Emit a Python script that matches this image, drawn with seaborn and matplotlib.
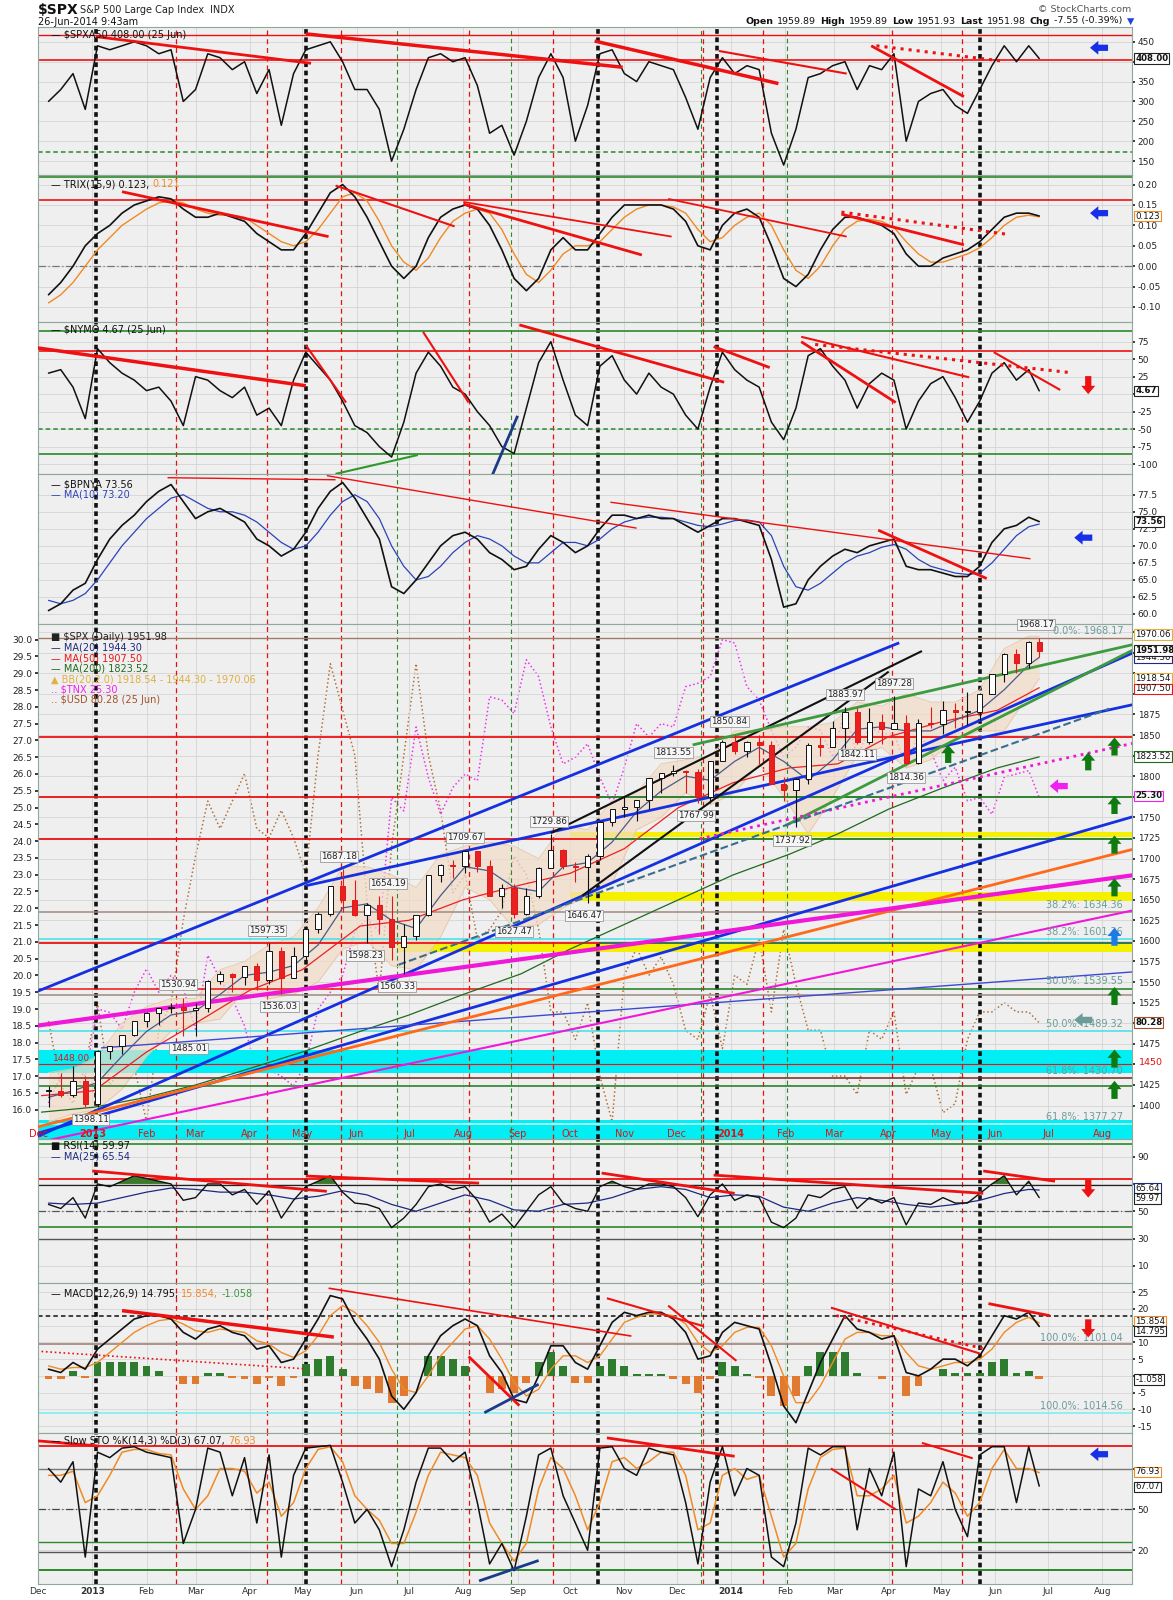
import numpy as np
import pandas as pd
import matplotlib
matplotlib.use("Agg")
import matplotlib.pyplot as plt
import matplotlib.transforms as mtransforms
import seaborn as sns

# ---------------- data (weekly samples) ----------------
weeks = list(pd.date_range("2012-12-07", "2014-06-20", freq="W-FRI")) + [pd.Timestamp("2014-06-26")]
biweeks = list(pd.date_range("2012-12-07", "2014-06-20", freq="2W-FRI")) + [pd.Timestamp("2014-06-26")]
months = pd.to_datetime(["2012-12-03", "2013-01-02", "2013-02-01", "2013-03-01", "2013-04-01",
                         "2013-05-01", "2013-06-03", "2013-07-01", "2013-08-01", "2013-09-03",
                         "2013-10-01", "2013-11-01", "2013-12-02", "2014-01-02", "2014-02-03",
                         "2014-03-03", "2014-04-01", "2014-05-01", "2014-06-02", "2014-06-26"])

spx_close = [1418, 1413, 1430, 1402, 1466, 1472, 1486, 1503, 1513, 1518,
             1520, 1516, 1518, 1551, 1560, 1556, 1569, 1553, 1588, 1555,
             1582, 1614, 1633, 1667, 1650, 1631, 1643, 1626, 1593, 1606,
             1632, 1680, 1692, 1691, 1709, 1691, 1655, 1664, 1633, 1655,
             1688, 1710, 1691, 1690, 1703, 1744, 1760, 1762, 1771, 1798,
             1804, 1806, 1805, 1775, 1818, 1842, 1831, 1842, 1838, 1790,
             1783, 1797, 1838, 1836, 1859, 1878, 1841, 1866, 1857, 1865,
             1816, 1864, 1863, 1881, 1878, 1878, 1900, 1924, 1949, 1937,
             1963, 1951.98]
spx_high = [1424, 1439, 1448, 1436, 1467, 1472, 1486, 1503, 1514, 1518,
            1524, 1531, 1525, 1552, 1564, 1561, 1570, 1573, 1597, 1593,
            1592, 1618, 1635, 1667, 1687, 1674, 1646, 1654, 1654, 1620,
            1632, 1680, 1693, 1698, 1710, 1709, 1698, 1669, 1669, 1664,
            1690, 1730, 1711, 1696, 1705, 1745, 1760, 1775, 1771, 1798,
            1804, 1814, 1808, 1809, 1819, 1844, 1850, 1843, 1850, 1843,
            1799, 1798, 1840, 1847, 1867, 1884, 1883, 1883, 1875, 1897,
            1874, 1869, 1884, 1891, 1889, 1902, 1901, 1924, 1950, 1955,
            1964, 1968]
spx_low = [1398, 1410, 1410, 1398, 1398, 1456, 1463, 1485, 1495, 1498,
           1512, 1485, 1485, 1514, 1548, 1538, 1546, 1540, 1548, 1536,
           1555, 1577, 1609, 1630, 1635, 1630, 1598, 1608, 1577, 1560,
           1601, 1630, 1672, 1676, 1682, 1684, 1654, 1640, 1628, 1631,
           1652, 1689, 1687, 1671, 1646, 1698, 1740, 1751, 1746, 1760,
           1780, 1800, 1779, 1768, 1768, 1818, 1827, 1823, 1815, 1790,
           1770, 1738, 1791, 1824, 1835, 1834, 1839, 1839, 1839, 1857,
           1815, 1815, 1859, 1851, 1859, 1862, 1868, 1900, 1915, 1925,
           1931, 1945]

ma20 = [1410, 1418, 1428, 1460, 1490, 1510, 1515, 1535, 1558, 1562,
        1570, 1595, 1640, 1645, 1625, 1615, 1655, 1690, 1685, 1665,
        1660, 1690, 1695, 1720, 1757, 1782, 1800, 1795, 1818, 1835,
        1818, 1795, 1820, 1857, 1860, 1855, 1855, 1868, 1880, 1905,
        1935, 1944.3]
bb_upper = [1440, 1445, 1460, 1500, 1520, 1530, 1530, 1565, 1575, 1595,
            1605, 1640, 1690, 1690, 1680, 1665, 1705, 1715, 1720, 1715,
            1700, 1740, 1735, 1770, 1780, 1815, 1820, 1825, 1855, 1855,
            1860, 1860, 1865, 1890, 1885, 1900, 1890, 1890, 1905, 1955,
            1970, 1970.06]
bb_lower = [1380, 1390, 1395, 1420, 1460, 1490, 1500, 1505, 1540, 1530,
            1535, 1550, 1590, 1600, 1570, 1565, 1605, 1665, 1650, 1615,
            1620, 1640, 1655, 1670, 1735, 1750, 1780, 1765, 1780, 1815,
            1775, 1730, 1775, 1825, 1835, 1810, 1820, 1845, 1855, 1855,
            1900, 1918.54]
ma50 = [1412, 1418, 1465, 1500, 1540, 1565, 1618, 1625, 1650, 1668,
        1682, 1712, 1762, 1792, 1810, 1815, 1848, 1866, 1880, 1907.5]
ma200 = [1392, 1398, 1410, 1425, 1445, 1465, 1490, 1510, 1535, 1560,
         1590, 1620, 1650, 1680, 1705, 1730, 1760, 1785, 1810, 1823.52]

tnx = [16.2, 17.0, 17.7, 17.0, 19.0, 18.9, 18.4, 19.5, 20.2, 19.5,
       20.0, 19.6, 18.4, 20.6, 19.9, 19.3, 18.5, 17.1, 17.2, 17.0,
       16.7, 17.4, 19.0, 19.5, 20.0, 21.3, 21.7, 21.3, 25.3, 24.9,
       27.4, 25.9, 24.8, 25.6, 26.0, 25.8, 28.3, 28.2, 27.8, 29.4,
       28.9, 27.4, 26.3, 26.5, 26.9, 25.9, 25.1, 26.2, 27.5, 27.1,
       27.5, 27.4, 28.6, 28.7, 28.9, 30.0, 29.9, 28.6, 28.2, 27.3,
       26.5, 26.8, 27.4, 27.3, 26.5, 27.9, 26.5, 27.4, 27.2, 27.2,
       26.2, 27.2, 26.7, 25.8, 26.2, 25.2, 25.3, 24.8, 25.9, 26.0,
       26.1, 25.3]
usd = [80.3, 79.6, 79.4, 79.8, 80.5, 79.6, 79.8, 79.8, 79.2, 80.2,
       80.5, 81.4, 82.1, 82.7, 82.4, 82.7, 83.0, 82.4, 82.3, 82.6,
       82.3, 81.9, 83.2, 84.2, 83.7, 83.2, 81.6, 80.6, 82.2, 83.2,
       84.2, 83.2, 82.6, 81.7, 81.9, 81.2, 81.3, 81.5, 82.1, 81.9,
       81.3, 80.4, 80.4, 80.1, 80.5, 79.7, 79.2, 80.8, 81.1, 80.8,
       81.0, 80.7, 80.2, 80.1, 80.6, 80.0, 80.8, 80.7, 81.2, 80.4,
       81.3, 80.7, 80.2, 80.2, 79.7, 79.7, 79.5, 80.2, 80.1, 80.4,
       79.5, 79.8, 79.8, 79.3, 79.4, 80.1, 80.4, 80.4, 80.5, 80.4,
       80.4, 80.28]

spxa50 = [300, 330, 370, 280, 440, 430, 440, 450, 440, 420,
          430, 300, 330, 420, 410, 380, 400, 320, 380, 240,
          370, 430, 440, 450, 400, 330, 330, 280, 150, 230,
          330, 410, 420, 400, 410, 340, 220, 240, 165, 250,
          360, 420, 360, 200, 290, 420, 430, 370, 350, 400,
          390, 380, 310, 230, 360, 410, 370, 390, 380, 220,
          140, 230, 360, 370, 390, 400, 330, 390, 380, 420,
          200, 300, 320, 330, 290, 270, 330, 390, 440, 400,
          440, 408]
trix = [-0.07, -0.04, 0.0, 0.05, 0.08, 0.10, 0.13, 0.15, 0.16, 0.17,
        0.165, 0.14, 0.12, 0.12, 0.13, 0.12, 0.11, 0.08, 0.06, 0.04,
        0.04, 0.08, 0.13, 0.18, 0.20, 0.17, 0.12, 0.06, 0.0, -0.03,
        0.0, 0.07, 0.12, 0.14, 0.15, 0.14, 0.10, 0.04, -0.03, -0.06,
        -0.03, 0.04, 0.07, 0.04, 0.04, 0.08, 0.12, 0.15, 0.15, 0.15,
        0.15, 0.14, 0.11, 0.05, 0.04, 0.10, 0.13, 0.14, 0.12, 0.05,
        -0.03, -0.05, -0.02, 0.04, 0.09, 0.12, 0.12, 0.11, 0.10, 0.08,
        0.03, 0.0, 0.0, 0.02, 0.03, 0.04, 0.06, 0.09, 0.12, 0.13,
        0.13, 0.123]
trix_signal = [-0.09, -0.07, -0.04, 0.0, 0.04, 0.07, 0.10, 0.12, 0.14, 0.155,
               0.16, 0.155, 0.14, 0.13, 0.125, 0.125, 0.12, 0.10, 0.08, 0.06,
               0.05, 0.06, 0.09, 0.13, 0.17, 0.18, 0.16, 0.11, 0.05, 0.01,
               -0.01, 0.02, 0.07, 0.11, 0.13, 0.14, 0.13, 0.09, 0.03, -0.02,
               -0.04, -0.01, 0.03, 0.05, 0.05, 0.06, 0.09, 0.12, 0.14, 0.15,
               0.15, 0.145, 0.13, 0.09, 0.06, 0.07, 0.10, 0.12, 0.13, 0.10,
               0.04, -0.01, -0.03, 0.0, 0.05, 0.09, 0.11, 0.115, 0.11, 0.095,
               0.06, 0.03, 0.01, 0.01, 0.02, 0.03, 0.045, 0.07, 0.10, 0.12,
               0.125, 0.121]
nymo = [30, 35, 10, -35, 65, 45, 30, 20, 5, 10,
        -10, -45, 25, 20, 5, -5, 10, -30, -20, -45,
        20, 60, 40, 20, -10, -45, -55, -75, -90, -40,
        30, 60, 40, 10, 0, -25, -45, -75, -85, -20,
        45, 75, 20, -30, -45, 40, 55, 20, 0, 30,
        10, 0, -30, -50, 10, 60, 35, 20, 10, -40,
        -65, -20, 55, 65, 40, 20, -20, 15, 30, 20,
        -50, -10, 15, 25, -5, -40, -10, 30, 45, 20,
        35, 4.67]
bpnya = [60.5, 61.5, 63.5, 64.5, 68, 71, 73, 74.5, 76.5, 78,
         79, 76.5, 74, 75, 75.5, 74.5, 73.5, 71, 70, 68.5,
         69.5, 72, 75.5, 78, 79.3, 77, 74, 71, 64, 63,
         65, 67.5, 70, 71.5, 72, 71, 69, 68, 66.5, 67,
         69.5, 71.5, 70.5, 69, 70, 72.5, 74.5, 74.5, 74, 74.5,
         74, 74, 73, 72, 73, 74, 74, 73.5, 73, 68,
         61, 61.5, 65, 67, 68.5, 69.5, 69, 70, 70.5, 71,
         67, 66.5, 66.5, 66, 65.5, 65.5, 67, 70.5, 72.5, 73,
         74.2, 73.56]
bpnya_ma10 = [62.0, 61.5, 62, 63, 65, 67.5, 70, 72, 74, 75.5,
              77, 77.5, 76.5, 75.5, 75, 75, 74.5, 73.5, 72, 70.5,
              69.5, 70, 72, 74.5, 76.5, 77.5, 76.5, 74, 70, 67,
              65, 65.5, 67, 69, 70.5, 71.5, 71, 70, 68.5, 67.5,
              67.5, 69, 70.5, 70.5, 70, 71, 72.5, 73.5, 74, 74.2,
              74.2, 74, 73.5, 73, 72.8, 73.2, 73.7, 73.8, 73.5, 71.5,
              67, 64, 63.5, 64.5, 66, 67.5, 68.5, 69, 69.8, 70.2,
              69.5, 68, 67, 66.5, 66, 65.8, 66, 67.5, 69.5, 71.5,
              72.8, 73.2]
rsi = [55, 52, 60, 45, 70, 68, 72, 76, 74, 72,
       70, 58, 60, 70, 70, 62, 66, 55, 65, 45,
       58, 68, 72, 76, 64, 56, 55, 52, 38, 45,
       55, 68, 70, 66, 68, 58, 42, 48, 38, 50,
       62, 68, 56, 52, 50, 68, 72, 68, 66, 70,
       70, 68, 60, 46, 62, 70, 58, 62, 60, 42,
       38, 45, 62, 60, 66, 68, 52, 60, 56, 60,
       40, 56, 55, 60, 56, 56, 63, 70, 76, 62,
       72, 59.97]
rsi_ma25 = [56, 55, 56, 60, 64, 67, 66, 64, 64, 62,
            59, 61, 65, 62, 55, 50, 56, 62, 58, 51,
            50, 55, 56, 60, 66, 68, 66, 60, 62, 61,
            53, 50, 56, 60, 58, 55, 53, 55, 58, 63,
            66, 65.54]
macd = [2, 1, 4, 2, 8, 11, 14, 17, 18, 18,
        17, 13, 11, 14, 15, 13, 12, 8, 9, 4,
        5, 11, 17, 24, 23, 16, 11, 5, -6, -10,
        -5, 6, 12, 15, 17, 15, 6, 1, -7, -8,
        0, 9, 9, 4, 2, 9, 16, 19, 18, 19,
        19, 17, 13, 5, 6, 13, 16, 15, 14, 3,
        -9, -14, -5, 4, 11, 18, 14, 13, 11, 12,
        1, 0, 2, 5, 5, 3, 6, 12, 18, 17,
        19, 14.795]
macd_signal = [3, 2, 2.5, 2.5, 4, 7, 10, 13, 15, 16.5,
               17, 15.5, 13.5, 13, 14, 13.5, 13, 10.5, 9.5, 7,
               5.5, 7.5, 12, 18, 21, 19, 15, 10, 2, -4,
               -5, 0, 6, 10, 14, 15, 11, 5, -2, -6,
               -4, 2, 6, 6, 4, 6, 11, 16, 17.5, 18.5,
               18.5, 18, 15.5, 10, 7, 9, 13, 14.5, 14.5, 9,
               0, -8, -8, -3, 4, 11, 13, 13, 12, 12,
               7, 3, 2, 3, 4, 4, 5, 8, 13, 16,
               17.5, 15.854]
macd_hist = [-1, -1, 1.5, -0.5, 4, 4, 4, 4, 3, 1.5,
             0, -2.5, -2.5, 1, 1, -0.5, -1, -2.5, -0.5, -3,
             -0.5, 3.5, 5, 6, 2, -3, -4, -5, -8, -6,
             0, 6, 6, 5, 3, 0, -5, -4, -5, -2,
             4, 7, 3, -2, -2, 3, 5, 3, 0.5, 0.5,
             0.5, -1, -2.5, -5, -1, 4, 3, 0.5, -0.5, -6,
             -9, -6, 3, 7, 7, 7, 1, 0, -1, 0,
             -6, -3, 0, 2, 1, 1, 1, 4, 5, 1,
             1.5, -1.058]
sto_k = [80, 70, 85, 15, 92, 88, 95, 96, 92, 90,
         88, 25, 50, 95, 92, 60, 88, 40, 90, 15,
         75, 95, 96, 97, 70, 40, 50, 35, 8, 35,
         70, 95, 95, 85, 92, 55, 10, 25, 5, 45,
         90, 95, 60, 40, 20, 95, 96, 80, 75, 95,
         92, 90, 55, 10, 70, 96, 60, 80, 75, 15,
         8, 40, 95, 90, 96, 96, 35, 80, 60, 92,
         8, 65, 60, 85, 50, 30, 90, 96, 96, 55,
         96, 67.07]
sto_d = [75, 75, 78, 55, 60, 75, 92, 94, 94, 91,
         90, 65, 50, 60, 80, 80, 78, 62, 70, 45,
         55, 80, 94, 96, 85, 60, 50, 42, 25, 25,
         48, 75, 92, 90, 88, 75, 40, 25, 12, 25,
         65, 88, 80, 60, 35, 55, 85, 88, 80, 85,
         92, 92, 75, 35, 40, 75, 80, 72, 75, 45,
         15, 25, 65, 88, 94, 95, 60, 60, 65, 75,
         40, 45, 55, 70, 62, 45, 55, 80, 94, 80,
         80, 76.93]

# vertical marker lines
black_vlines = ["2013-01-03", "2013-05-03", "2013-10-17", "2013-12-24", "2014-05-23"]
red_vlines = ["2013-02-18", "2013-04-11", "2013-05-23", "2013-08-04", "2013-09-21",
              "2013-12-16", "2014-01-19", "2014-04-03", "2014-05-13"]
green_vlines = ["2013-06-24", "2013-08-28", "2013-12-15", "2014-02-02"]

# trendlines: (start, value, end, value, colour, width, style)
RED, BLUE, NAVY = "#ee1111", "#1430e0", "#1a3a8a"
spxa50_lines = [("2013-01-03", 463, "2013-05-06", 396, RED, 2.0, "-"),
                ("2013-05-03", 470, "2013-10-31", 386, RED, 2.5, "-"),
                ("2013-10-15", 452, "2014-01-28", 345, RED, 2.5, "-"),
                ("2013-12-25", 427, "2014-03-08", 370, RED, 1.5, "-"),
                ("2014-03-22", 440, "2014-05-14", 312, RED, 2.0, "-"),
                ("2014-03-25", 440, "2014-06-06", 401, RED, 2.2, ":")]
trix_lines = [("2013-01-18", 0.1825, "2013-05-16", 0.0725, RED, 2.0, "-"),
              ("2013-05-20", 0.1975, "2013-07-27", 0.0975, RED, 1.5, "-"),
              ("2013-08-01", 0.1575, "2013-11-28", 0.0725, RED, 1.3, "-"),
              ("2013-08-01", 0.1525, "2013-11-11", 0.0275, RED, 2.0, "-"),
              ("2013-11-26", 0.165, "2014-03-08", 0.0725, RED, 1.3, "-"),
              ("2014-03-05", 0.1325, "2014-06-09", 0.0775, RED, 2.2, ":"),
              ("2014-03-05", 0.1275, "2014-05-14", 0.0525, RED, 2.0, "-")]
nymo_lines = [("2012-12-01", 66, "2013-05-03", 12, RED, 2.5, "-"),
              ("2013-05-03", 70, "2013-05-26", -12, RED, 1.5, "-"),
              ("2013-07-09", 89, "2013-08-04", -12, RED, 1.5, "-"),
              ("2013-09-02", 99, "2013-12-28", 17, RED, 2.0, "-"),
              ("2013-12-22", 68, "2014-01-23", 38, RED, 2.0, "-"),
              ("2014-02-10", 82, "2014-05-17", 24, RED, 1.5, "-"),
              ("2014-02-10", 75, "2014-04-05", -12, RED, 2.0, "-"),
              ("2014-02-18", 71, "2014-07-13", 31, RED, 2.2, ":"),
              ("2014-05-31", 60, "2014-07-08", 6, RED, 1.5, "-"),
              ("2013-08-17", -119, "2013-09-01", -31, NAVY, 2.0, "-"),
              ("2013-05-20", -114, "2013-07-06", -87, "#2a9a2a", 1.5, "-")]
bpnya_lines = [("2013-02-13", 80.0, "2013-05-20", 79.7, RED, 1.0, "-"),
               ("2013-05-15", 80.3, "2013-11-08", 72.6, RED, 1.0, "-"),
               ("2013-10-24", 76.4, "2014-06-21", 68.1, RED, 1.0, "-"),
               ("2014-03-26", 72.3, "2014-05-27", 65.2, RED, 2.0, "-")]
rsi_lines = [("2013-01-01", 79.5, "2013-05-15", 64.6, RED, 2.0, "-"),
             ("2013-05-03", 75.8, "2013-08-10", 70.6, RED, 2.0, "-"),
             ("2013-10-19", 78.0, "2014-01-03", 63.1, RED, 2.0, "-"),
             ("2013-12-22", 76.5, "2014-05-25", 63.1, RED, 2.0, "-"),
             ("2014-05-25", 79.5, "2014-07-05", 72.0, RED, 2.0, "-")]
macd_lines = [("2013-01-18", 19.5, "2013-05-19", 11.6, RED, 2.5, "-"),
              ("2013-05-16", 26.2, "2013-11-05", 11.9, RED, 1.2, "-"),
              ("2012-12-03", 7.3, "2013-05-03", 2.1, RED, 1.2, ":"),
              ("2013-08-04", 5.8, "2013-09-02", -8.9, RED, 2.0, "-"),
              ("2013-10-22", 23.2, "2013-12-16", 14.9, RED, 1.5, "-"),
              ("2013-11-26", 21.0, "2014-01-04", 4.5, RED, 1.5, "-"),
              ("2014-02-27", 20.4, "2014-05-23", 6.7, RED, 1.5, "-"),
              ("2014-03-02", 18.0, "2014-05-25", 8.2, RED, 2.0, ":"),
              ("2014-05-28", 21.6, "2014-07-02", 18.0, RED, 2.0, "-"),
              ("2013-08-13", -11.0, "2013-09-13", -2.5, NAVY, 2.0, "-")]
sto_lines = [("2012-12-01", 100.3, "2013-01-05", 96.5, RED, 2.0, "-"),
             ("2013-10-22", 102.5, "2014-01-03", 89.0, RED, 2.0, "-"),
             ("2014-02-27", 80.0, "2014-04-05", 50.0, RED, 1.5, "-"),
             ("2014-04-20", 98.8, "2014-05-19", 87.5, RED, 1.5, "-"),
             ("2013-08-10", -2.5, "2013-09-13", 12.5, NAVY, 2.0, "-")]
spx_lines = [("2012-12-01", 1539, "2014-04-07", 1962, BLUE, 2.0, "-"),
             ("2013-05-03", 1667, "2014-08-23", 1889, BLUE, 2.0, "-"),
             ("2012-11-27", 1364, "2014-08-27", 1756, BLUE, 2.0, "-"),
             ("2012-11-27", 1359, "2014-08-23", 1954, BLUE, 2.0, "-"),
             ("2013-01-06", 1470, "2014-08-23", 1563, "#3a4ad8", 1.0, "-"),
             ("2013-09-20", 1731, "2014-04-20", 1952, "#111111", 1.5, "-"),
             ("2013-10-08", 1655, "2014-04-01", 1927, "#111111", 1.5, "-"),
             ("2013-12-10", 1838, "2014-08-23", 1962, "#3e9a3e", 2.0, "-"),
             ("2014-02-01", 1740, "2014-08-23", 1958, "#3e9a3e", 2.0, "-"),
             ("2012-11-27", 1372, "2014-08-20", 1712, "#ff6a1a", 2.0, "-"),
             ("2012-11-27", 1496, "2014-08-23", 1681, "#f018d8", 3.0, "-"),
             ("2012-12-07", 1358, "2014-08-23", 1639, "#f018d8", 1.5, "-"),
             ("2013-12-14", 1724, "2014-08-23", 1842, "#f018d8", 2.0, ":"),
             ("2013-06-25", 1571, "2014-08-05", 1882, "#3a6e8e", 1.5, "--")]

# price labels: (date, price, text, position)
peak_dates = ["2012-12-31", "2013-02-19", "2013-02-25", "2013-04-11", "2013-04-18", "2013-05-22",
              "2013-06-06", "2013-06-19", "2013-06-24", "2013-08-02", "2013-08-30", "2013-09-19",
              "2013-10-09", "2013-11-29", "2013-12-12", "2013-12-31", "2014-02-05", "2014-03-07",
              "2014-03-14", "2014-04-04", "2014-04-11", "2014-06-24"]
peak_prices = [1398.11, 1530.94, 1485.01, 1597.35, 1536.03, 1687.18, 1598.23, 1654.19, 1560.33,
               1709.67, 1627.47, 1729.86, 1646.47, 1813.55, 1767.99, 1850.84, 1737.92, 1883.97,
               1842.11, 1897.28, 1814.36, 1968.17]
peak_kinds = ["lo", "hi", "lo", "hi", "lo", "hi", "lo", "hi", "lo", "hi", "lo", "hi",
              "lo", "hi", "lo", "hi", "lo", "hi", "lo", "hi", "lo", "hi"]

# ---------------- figure ----------------
sns.set_theme(style="white")
plt.rcParams["font.family"] = ["DejaVu Sans"]
plt.rcParams["font.size"] = 6.5

W, H = 1173, 1600
fig = plt.figure(figsize=(W / 100, H / 100), dpi=100)
fig.patch.set_facecolor("white")
renderer = fig.canvas.get_renderer()

X0, X1 = pd.Timestamp("2012-12-01"), pd.Timestamp("2014-08-18")
edges = [27.5, 175.4, 322.3, 474.3, 624.2, 1139.3, 1283.2, 1433.1, 1584.0]
L, R = 38, 1132
BG, GRID, SPINE = "#efefef", "#d4d4d4", "#8fa89a"
month_starts = pd.date_range("2012-12-01", "2014-08-01", freq="MS")
month_labels = ["Dec", "2013", "Feb", "Mar", "Apr", "May", "Jun", "Jul", "Aug", "Sep", "Oct",
                "Nov", "Dec", "2014", "Feb", "Mar", "Apr", "May", "Jun", "Jul", "Aug"]


def make_ax(i):
    top, bot = edges[i], edges[i + 1]
    return fig.add_axes([L / W, 1 - bot / H, (R - L) / W, (bot - top) / H])


def style(ax, ylim, yticks, fmt="{:g}", hide=()):
    ax.set_facecolor(BG)
    ax.set_xlim(X0, X1)
    ax.set_ylim(*ylim)
    ax.set_yticks(yticks)
    ax.set_yticklabels(["" if t in hide else fmt.format(t) for t in yticks])
    ax.yaxis.tick_right()
    ax.tick_params(axis="y", length=2, pad=2, labelsize=6.5, colors="#222", right=True, left=False)
    ax.set_xticks(month_starts)
    ax.tick_params(axis="x", length=0, labelbottom=False)
    ax.grid(True, color=GRID, lw=0.6)
    ax.set_axisbelow(True)
    for s in ax.spines.values():
        s.set_color(SPINE)
        s.set_linewidth(0.8)
    ax.set_xlabel("")
    ax.set_ylabel("")
    for d in red_vlines:
        ax.axvline(pd.Timestamp(d), color="#e51010", lw=0.9, ls=(0, (4, 3)), zorder=1.6)
    for d in green_vlines:
        ax.axvline(pd.Timestamp(d), color="#2a8a2a", lw=0.8, ls=(0, (4, 3)), zorder=1.6)
    for d in black_vlines:
        ax.axvline(pd.Timestamp(d), color="#111111", lw=2.6, ls=(0, (1.3, 1.0)), zorder=1.7)


def hline(ax, y, color, lw=1.2, ls="-", x0=None, x1=None):
    a = pd.Timestamp(x0) if x0 else X0
    b = pd.Timestamp(x1) if x1 else X1
    ax.plot([a, b], [y, y], color=color, lw=lw, ls=ls, zorder=2)


def trend(ax, segs):
    for d0, v0, d1, v1, c, lw, ls in segs:
        ax.plot([pd.Timestamp(d0), pd.Timestamp(d1)], [v0, v1], color=c, lw=lw, ls=ls,
                solid_capstyle="butt", zorder=4, clip_on=True)


def line(ax, x, y, color, lw=1.1, ls="-"):
    sns.lineplot(x=pd.to_datetime(x), y=np.asarray(y, float), ax=ax, color=color,
                 linewidth=lw, linestyle=ls, legend=False, zorder=3)


def tag(ax, y, text, ec="#222", bold=False, tc="#111", size=6.2):
    tr = mtransforms.blended_transform_factory(ax.transAxes, ax.transData)
    ax.text(1.003, y, text, transform=tr, ha="left", va="center", fontsize=size, color=tc,
            fontweight="bold" if bold else "normal", clip_on=False, zorder=10,
            bbox=dict(boxstyle="square,pad=0.1", fc="white", ec=ec, lw=0.8))


def arrow(ax, x, y, direction, color):
    off = {"up": (0, -13), "down": (0, 13), "left": (13, 0)}[direction]
    ax.annotate("", xy=(pd.Timestamp(x), y), xytext=off, textcoords="offset points",
                arrowprops=dict(facecolor=color, edgecolor="none", width=4.5, headwidth=10,
                                headlength=6), annotation_clip=False, zorder=9)


def seq_text(parts, x, y, transform, ha="left", size=7, gap=3):
    # place coloured text pieces one after another, measured in pixels
    px, py = transform.transform((x, y))
    items = []
    for txt, col, bold in parts:
        t = fig.text(0, py, txt, transform=mtransforms.IdentityTransform(), fontsize=size,
                     color=col, fontweight="bold" if bold else "normal", va="center", ha="left",
                     zorder=12)
        items.append((t, t.get_window_extent(renderer).width))
    total = sum(w for _, w in items) + gap * (len(items) - 1)
    cur = px if ha == "left" else px - total
    for t, w in items:
        t.set_x(cur)
        cur += w + gap


def label(ax, parts, y):
    seq_text([(t, c, False) for t, c in parts], 0.012, y, ax.transAxes)


# ---------- panel 1: $SPXA50 ----------
ax1 = make_ax(0)
line(ax1, weeks, spxa50, "#111111", 1.1)
style(ax1, (114, 486), [150, 200, 250, 300, 350, 400, 450], hide=(400,))
hline(ax1, 405, RED, 1.2)
hline(ax1, 468, RED, 1.0)
hline(ax1, 173, "#2a8a2a", 1.1, (0, (3, 2)))
trend(ax1, spxa50_lines)
label(ax1, [("\u2014 $SPXA50 408.00 (25 Jun)", "#111")], 0.95)
tag(ax1, 408, "408.00", bold=True)
arrow(ax1, "2014-07-25", 435, "left", "#1530e6")

# ---------- panel 2: TRIX ----------
ax2 = make_ax(1)
line(ax2, weeks, trix_signal, "#f08a24", 1.0)
line(ax2, weeks, trix, "#111111", 1.2)
style(ax2, (-0.1375, 0.2225), [-0.10, -0.05, 0.0, 0.05, 0.10, 0.15, 0.20], "{:.2f}")
hline(ax2, 0.0, "#777", 0.9, (0, (6, 2, 1, 2)))
hline(ax2, 0.162, RED, 1.2)
hline(ax2, 0.218, "#2a8a2a", 1.2)
trend(ax2, trix_lines)
label(ax2, [("\u2014 TRIX(15,9) 0.123,", "#111"), ("0.121", "#f08a24")], 0.94)
tag(ax2, 0.123, "0.123", ec="#f08a24")
arrow(ax2, "2014-07-25", 0.13, "left", "#1530e6")

# ---------- panel 3: $NYMO ----------
ax3 = make_ax(2)
line(ax3, weeks, nymo, "#111111", 1.1)
style(ax3, (-114.6, 102.7), [-100, -75, -50, -25, 0, 25, 50, 75], hide=(0,))
hline(ax3, 61, RED, 1.2)
hline(ax3, 90, "#2a8a2a", 1.2)
hline(ax3, -50, "#2a8a2a", 1.1, (0, (3, 2)))
hline(ax3, -85, "#2a8a2a", 1.2)
trend(ax3, nymo_lines)
label(ax3, [("\u2014 $NYMO 4.67 (25 Jun)", "#111")], 0.95)
tag(ax3, 4.67, "4.67", bold=True)
arrow(ax3, "2014-07-24", 0, "down", "#ee1111")

# ---------- panel 4: $BPNYA ----------
ax4 = make_ax(3)
line(ax4, weeks, bpnya_ma10, "#2a44b8", 0.9)
line(ax4, weeks, bpnya, "#111111", 1.2)
style(ax4, (58.5, 80.5), [60, 62.5, 65, 67.5, 70, 72.5, 75, 77.5], "{:.1f}")
trend(ax4, bpnya_lines)
label(ax4, [("\u2014 $BPNYA 73.56", "#111")], 0.93)
label(ax4, [("\u2014 MA(10) 73.20", "#2a44b8")], 0.865)
tag(ax4, 73.56, "73.56", bold=True)
arrow(ax4, "2014-07-16", 71.2, "left", "#1530e6")

# ---------- panel 5: $SPX price ----------
axm = make_ax(4)
ax_usd = axm.twinx()
ax_tnx = axm.twinx()
ax_usd.set_zorder(1)
ax_tnx.set_zorder(2)
axm.set_zorder(3)
axm.patch.set_visible(False)
ax_usd.patch.set_visible(True)
ax_usd.set_facecolor(BG)

line(ax_usd, weeks, usd, "#b0703a", 1.1, ":")
ax_usd.set_xlim(X0, X1)
ax_usd.set_ylim(79.01, 84.63)
ax_usd.set_yticks([])
ax_usd.set_ylabel("")
line(ax_tnx, weeks, tnx, "#f030f0", 1.1, ":")
ax_tnx.set_xlim(X0, X1)
ax_tnx.set_ylim(15.12, 30.46)
tnx_ticks = np.arange(16.0, 30.01, 0.5)
ax_tnx.yaxis.tick_left()
ax_tnx.set_yticks(tnx_ticks)
ax_tnx.set_yticklabels([f"{t:.1f}" for t in tnx_ticks])
ax_tnx.tick_params(axis="y", length=2, pad=2, labelsize=6.5, colors="#222", left=True, right=False)
ax_tnx.set_ylabel("")
for a in (ax_usd, ax_tnx):
    for s in a.spines.values():
        s.set_visible(False)

axm.axhspan(1358, 1383, color="#00eef4", zorder=1.2, lw=0)
axm.axhspan(1439, 1468, color="#00eef4", zorder=1.2, lw=0)
axm.fill_between([pd.Timestamp("2013-06-24"), X1], 1586, 1596, color="#f4f000", zorder=1.2, lw=0)
axm.fill_between([pd.Timestamp("2013-10-01"), X1], 1649, 1659, color="#f4f000", zorder=1.2, lw=0)
axm.fill_between([pd.Timestamp("2013-10-01"), X1], 1726, 1732, color="#f4f000", zorder=1.2, lw=0)

sns.lineplot(x=pd.to_datetime(biweeks), y=bb_upper, ax=axm, color="#e6c7a6", linewidth=0.6, legend=False)
sns.lineplot(x=pd.to_datetime(biweeks), y=bb_lower, ax=axm, color="#e6c7a6", linewidth=0.6, legend=False)
axm.fill_between(pd.to_datetime(biweeks), bb_lower, bb_upper, color="#f3dcc8", alpha=0.7, lw=0, zorder=1.4)

hline(axm, 1968.17, "#a07a68", 1.0)
hline(axm, 1848, RED, 1.3)
hline(axm, 1775, RED, 1.3, x1="2013-10-18")
hline(axm, 1775, "#1f7a1f", 1.3, x0="2013-10-18")
hline(axm, 1724, RED, 1.3, x1="2013-10-18")
hline(axm, 1724, "#1f7a1f", 1.3, x0="2013-10-18")
hline(axm, 1635, "#a08a80", 1.1)
hline(axm, 1602, "#40e0e8", 1.1)
hline(axm, 1597, RED, 1.3, x1="2013-10-18")
hline(axm, 1597, "#1f6a4a", 1.3, x0="2013-10-18")
hline(axm, 1542, RED, 1.1, x1="2013-10-18")
hline(axm, 1542, "#1f7a1f", 1.1, x0="2013-10-18")
hline(axm, 1534, "#a08a80", 1.1)
hline(axm, 1491, "#40e0e8", 1.1)
hline(axm, 1450, RED, 0.8)
hline(axm, 1433, "#6a2a20", 1.1)
hline(axm, 1424, "#1f7a1f", 1.1)
hline(axm, 1377, "#9ff4f4", 1.5)

trend(axm, spx_lines)

line(axm, months, ma200, "#1f6a1f", 0.9)
line(axm, months, ma50, "#ee2020", 0.9)
line(axm, biweeks, ma20, "#4a5a8a", 0.9)

# weekly candles (open taken from the previous close)
opens = [spx_close[0]] + spx_close[:-1]
wk = pd.to_datetime(weeks)
up = [c >= o for c, o in zip(spx_close, opens)]
wick_col = ["#111111" if u else "#e01818" for u in up]
axm.vlines(wk, spx_low, spx_high, colors=wick_col, lw=0.8, zorder=5)
body_bottom = [min(c, o) for c, o in zip(spx_close, opens)]
body_h = [max(abs(c - o), 1.2) for c, o in zip(spx_close, opens)]
axm.bar(wk, body_h, bottom=body_bottom, width=3.0,
        color=["#ffffff" if u else "#e82020" for u in up],
        edgecolor=wick_col, linewidth=0.7, zorder=6)

style(axm, (1359, 1984.6), list(range(1400, 1976, 25)),
      hide=(1450, 1500, 1775, 1825, 1900, 1925, 1950, 1975))
axm.tick_params(axis="y", labelsize=6.3)

for d, p, k in zip(peak_dates, peak_prices, peak_kinds):
    axm.annotate(f"{p:.2f}", xy=(pd.Timestamp(d), p), xytext=(0, 6 if k == "hi" else -6),
                 textcoords="offset points", ha="center", va="bottom" if k == "hi" else "top",
                 fontsize=6.3, color="#222", zorder=8,
                 bbox=dict(boxstyle="square,pad=0.12", fc="#f6f6f6", ec="#999", lw=0.6))
axm.text(pd.Timestamp("2012-12-20"), 1452, "1448.00", fontsize=6.5, color=RED, ha="center", va="bottom", zorder=8)

fib_tr = mtransforms.blended_transform_factory(axm.transAxes, axm.transData)
for y, txt in [(1970, "0.0%: 1968.17"), (1638, "38.2%: 1634.36"), (1605, "38.2%: 1601.36"),
               (1545, "50.0%: 1539.55"), (1493, "50.0%: 1489.32"), (1436, "61.8%: 1430.70"),
               (1380, "61.8%: 1377.27")]:
    axm.text(0.992, y, txt, transform=fib_tr, ha="right", va="bottom", fontsize=7, color="#6a9c9a", zorder=8)

for m, lab in zip(month_starts, month_labels):
    axm.text(m, 1366, lab, ha="center", va="center", fontsize=7, color="#e81010", zorder=8,
             fontweight="bold" if lab.startswith("20") else "normal")

leg = [("\u25a0 $SPX (Daily) 1951.98", "#222"), ("\u2014 MA(20) 1944.30", "#1c2a80"),
       ("\u2014 MA(50) 1907.50", "#e81818"), ("\u2014 MA(200) 1823.52", "#1f6a1f"),
       ("\u25b2 BB(20,2.0) 1918.54 - 1944.30 - 1970.06", "#e0b040"),
       ("\u2024\u2024 $TNX 25.30", "#f020f0"), ("\u2024\u2024 $USD 80.28 (25 Jun)", "#a0522d")]
for i, (txt, col) in enumerate(leg):
    axm.text(0.012, 0.985 - i * 0.0205, txt, transform=axm.transAxes, fontsize=7, color=col,
             va="top", ha="left", zorder=11)

tag(axm, 1972, "1970.06", ec="#e0b040")
tag(axm, 1944.3, "1944.30", ec="#1c2a80")
tag(axm, 1953, "1951.98", bold=True)
tag(axm, 1918.5, "1918.54", ec="#e0b040")
tag(axm, 1906, "1907.50", ec="#e81818")
tag(axm, 1823.5, "1823.52", ec="#1f6a1f")
tag(axm, 1776, "25.30", ec="#f020f0", bold=True)
tag(axm, 1500.5, "80.28", ec="#a0522d", bold=True)
axm.text(1.006, 1452, "1450", transform=fib_tr, ha="left", va="center", fontsize=6.8, color="#e81010", zorder=10)

for x, y in [("2014-08-08", 1837), ("2014-08-08", 1766), ("2014-08-08", 1718), ("2014-08-08", 1666),
             ("2014-08-08", 1534), ("2014-08-08", 1458), ("2014-08-08", 1420), ("2014-07-24", 1819),
             ("2014-05-05", 1828)]:
    arrow(axm, x, y + 10, "up", "#0f7a0f")
arrow(axm, "2014-08-08", 1616, "up", "#1e7ae6")
arrow(axm, "2014-07-02", 1788, "left", "#f020f0")
arrow(axm, "2014-07-16", 1504, "left", "#6a9c9a")

# ---------- panel 6: RSI ----------
ax6 = make_ax(5)
rsi_arr = np.asarray(rsi, float)
ax6.fill_between(pd.to_datetime(weeks), 70, rsi_arr, where=rsi_arr > 70, interpolate=True,
                 color="#3a7a2a", lw=0, zorder=2.5)
line(ax6, biweeks, rsi_ma25, "#1c2a80", 0.9)
line(ax6, weeks, rsi, "#111111", 1.0)
style(ax6, (-2.7, 102.7), [10, 30, 50, 70, 90], hide=(70,))
hline(ax6, 99, "#2a8a2a", 1.2)
hline(ax6, 73.6, RED, 1.3)
hline(ax6, 69, "#222222", 0.9)
hline(ax6, 50, "#555", 0.9, (0, (6, 2, 1, 2)))
hline(ax6, 38.6, "#2a8a2a", 1.2)
hline(ax6, 29.5, "#555555", 1.0)
trend(ax6, rsi_lines)
label(ax6, [("\u25a0 RSI(14) 59.97", "#111")], 0.955)
label(ax6, [("\u2014 MA(25) 65.54", "#1c2a80")], 0.88)
tag(ax6, 66.5, "65.64", ec="#1c2a80")
tag(ax6, 59.5, "59.97")
arrow(ax6, "2014-07-24", 60, "down", "#ee1111")

# ---------- panel 7: MACD ----------
ax7 = make_ax(6)
hist = np.asarray(macd_hist, float)
ax7.bar(pd.to_datetime(weeks), hist, width=4.5, color=["#2e7d2e" if v >= 0 else "#e07a30" for v in hist],
        zorder=2.5, lw=0)
line(ax7, weeks, macd_signal, "#f08a24", 1.0)
line(ax7, weeks, macd, "#111111", 1.2)
style(ax7, (-17.1, 27.7), [-15, -10, -5, 0, 5, 10, 15, 20, 25], hide=(0, 15))
hline(ax7, 18, "#111111", 1.1, (0, (3, 2)))
hline(ax7, 9.4, "#9a7a70", 1.1)
hline(ax7, -11, "#7ff0f0", 1.2)
trend(ax7, macd_lines)
mtr = mtransforms.blended_transform_factory(ax7.transAxes, ax7.transData)
ax7.text(0.992, 9.9, "100.0%: 1101.04", transform=mtr, ha="right", va="bottom", fontsize=7, color="#6a9c9a")
ax7.text(0.992, -10.5, "100.0%: 1014.56", transform=mtr, ha="right", va="bottom", fontsize=7, color="#6a9c9a")
label(ax7, [("\u2014 MACD(12,26,9) 14.795,", "#111"), ("15.854,", "#f08a24"), ("-1.058", "#3a9a3a")], 0.93)
tag(ax7, 16.4, "15.854", ec="#f08a24")
tag(ax7, 13.4, "14.795")
tag(ax7, -1.06, "-1.058")
arrow(ax7, "2014-07-24", 11.5, "down", "#ee1111")

# ---------- panel 8: Slow Stochastic ----------
ax8 = make_ax(7)
line(ax8, weeks, sto_d, "#f08a24", 1.1)
line(ax8, weeks, sto_k, "#111111", 1.1)
style(ax8, (-4.75, 106), [20, 50, 80], hide=(80,))
hline(ax8, 96.8, RED, 1.3)
hline(ax8, 80, "#777777", 1.0)
hline(ax8, 50, "#444", 0.9, (0, (6, 2, 1, 2)))
hline(ax8, 26, "#2a8a2a", 1.0)
hline(ax8, 19, "#555555", 1.0)
hline(ax8, 5.8, "#2a8a2a", 1.4)
trend(ax8, sto_lines)
label(ax8, [("\u2014 Slow STO %K(14,3) %D(3) 67.07,", "#111"), ("76.93", "#f08a24")], 0.95)
tag(ax8, 77.5, "76.93", ec="#f08a24")
tag(ax8, 66.5, "67.07")
arrow(ax8, "2014-07-25", 90.5, "left", "#1530e6")

ax8.tick_params(axis="x", labelbottom=True, labelsize=6.5, pad=2, colors="#333")
ax8.set_xticklabels(month_labels)
for t in ax8.get_xticklabels():
    if t.get_text().startswith("20"):
        t.set_fontweight("bold")

# ---------- header ----------
fig_tr = fig.transFigure
seq_text([("$SPX", "#111", True)], 38 / W, 1 - 10 / H, fig_tr, size=10)
seq_text([("S&P 500 Large Cap Index", "#222", False), ("INDX", "#222", False)],
         80 / W, 1 - 10 / H, fig_tr, size=7, gap=6)
seq_text([("26-Jun-2014 9:43am", "#111", False)], 38 / W, 1 - 22 / H, fig_tr, size=7)
seq_text([("\u00a9 StockCharts.com", "#555", False)], 1131 / W, 1 - 9 / H, fig_tr, ha="right", size=6.8)
seq_text([("Open", "#111", True), ("1959.89", "#111", False), ("High", "#111", True),
          ("1959.89", "#111", False), ("Low", "#111", True), ("1951.93", "#111", False),
          ("Last", "#111", True), ("1951.98", "#111", False), ("Chg", "#111", True),
          ("-7.55 (-0.39%)", "#111", False), ("\u25bc", "#2040e0", False)],
         1134 / W, 1 - 21 / H, fig_tr, ha="right", size=6.8, gap=4)

fig.savefig("out.png", dpi=100, facecolor="white")
